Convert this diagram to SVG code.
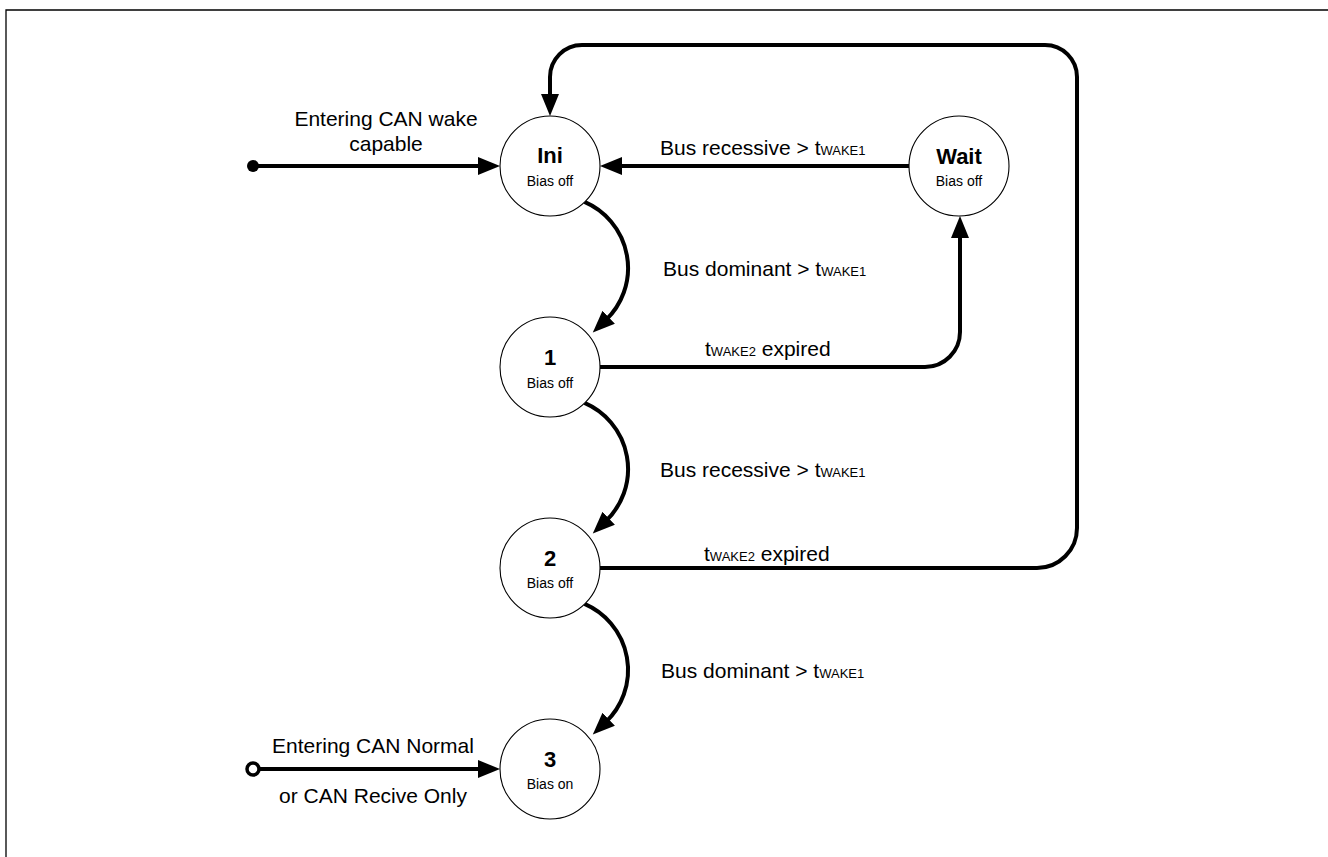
<svg xmlns="http://www.w3.org/2000/svg" width="1328" height="857" viewBox="0 0 1328 857">
<style>
.node circle{fill:#fff;stroke:#000;stroke-width:1.1}
.t{font-family:"Liberation Sans",Arial,sans-serif;font-size:21px;fill:#000}
.s{font-size:13px}
.nl{font-family:"Liberation Sans",Arial,sans-serif;font-size:22px;font-weight:bold;text-anchor:middle;fill:#000}
.bl{font-family:"Liberation Sans",Arial,sans-serif;font-size:14px;text-anchor:middle;fill:#000}
.c{fill:none;stroke:#000;stroke-width:4}
</style>
<defs>
<marker id="ah" markerUnits="userSpaceOnUse" markerWidth="24" markerHeight="20" refX="4" refY="9" orient="auto">
<path d="M0,0 L22,9 L0,18 z" fill="#000"/>
</marker>
</defs>
<rect width="1328" height="857" fill="#fff"/>
<g id="frame" fill="none" stroke="#000" stroke-width="1.3">
<path d="M6,857 V10 H1328"/>
</g>
<g id="connectors">
<path class="c" d="M253,166 H482" marker-end="url(#ah)"/>
<circle cx="253" cy="166" r="6" fill="#000"/>
<path class="c" d="M909,166 H618" marker-end="url(#ah)"/>
<path class="c" d="M584.5,201.9 A72,72 0 0 1 605.8,320.1" marker-end="url(#ah)"/>
<path class="c" d="M584.5,402.9 A72,72 0 0 1 605.8,521.1" marker-end="url(#ah)"/>
<path class="c" d="M584.5,603.9 A72,72 0 0 1 605.8,722.1" marker-end="url(#ah)"/>
<path class="c" d="M600,367 H925 A35,35 0 0 0 960,332 V234" marker-end="url(#ah)"/>
<path class="c" d="M600,568 H1037 A40,40 0 0 0 1077,528 V77 A32,32 0 0 0 1045,45 H582 A32,32 0 0 0 550,77 V98" marker-end="url(#ah)"/>
<path class="c" d="M259,769 H482" marker-end="url(#ah)"/>
<circle cx="253" cy="769" r="6" fill="#fff" stroke="#000" stroke-width="3.5"/>
</g>
<g id="labels">
<text class="t" x="386" y="126" text-anchor="middle">Entering CAN wake</text>
<text class="t" x="386" y="151" text-anchor="middle">capable</text>
<text class="t" x="660" y="155">Bus recessive &gt; t<tspan class="s">WAKE1</tspan></text>
<text class="t" x="663" y="276">Bus dominant &gt; t<tspan class="s">WAKE1</tspan></text>
<text class="t" x="705" y="356">t<tspan class="s">WAKE2</tspan> expired</text>
<text class="t" x="660" y="477">Bus recessive &gt; t<tspan class="s">WAKE1</tspan></text>
<text class="t" x="704" y="561">t<tspan class="s">WAKE2</tspan> expired</text>
<text class="t" x="661" y="678">Bus dominant &gt; t<tspan class="s">WAKE1</tspan></text>
<text class="t" x="373" y="753" text-anchor="middle">Entering CAN Normal</text>
<text class="t" x="373" y="803" text-anchor="middle">or CAN Recive Only</text>
</g>
<g id="node-ini" class="node">
<circle cx="550" cy="166" r="50"/>
<text class="nl" x="550" y="163">Ini</text>
<text class="bl" x="550" y="186">Bias off</text>
</g>
<g id="node-wait" class="node">
<circle cx="959" cy="166" r="50"/>
<text class="nl" x="959" y="164">Wait</text>
<text class="bl" x="959" y="186">Bias off</text>
</g>
<g id="node-1" class="node">
<circle cx="550" cy="367" r="50"/>
<text class="nl" x="550" y="365">1</text>
<text class="bl" x="550" y="388">Bias off</text>
</g>
<g id="node-2" class="node">
<circle cx="550" cy="568" r="50"/>
<text class="nl" x="550" y="566">2</text>
<text class="bl" x="550" y="588">Bias off</text>
</g>
<g id="node-3" class="node">
<circle cx="550" cy="769" r="50"/>
<text class="nl" x="550" y="767">3</text>
<text class="bl" x="550" y="789">Bias on</text>
</g>
</svg>
